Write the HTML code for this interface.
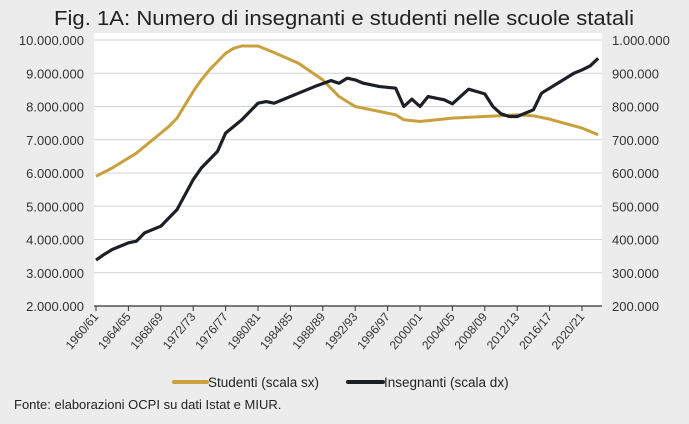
<!DOCTYPE html>
<html><head><meta charset="utf-8"><style>
html,body{margin:0;padding:0;background:#ececec;}
body{width:689px;height:419px;overflow:hidden;font-family:"Liberation Sans",sans-serif;}
</style></head><body>
<svg id="s" width="689" height="419" xmlns="http://www.w3.org/2000/svg" style="font-family:'Liberation Sans',sans-serif">
<rect width="689" height="419" fill="#ececec"/>
<rect x="94" y="33" width="508" height="273" fill="#fff"/>
<text x="344" y="25" font-size="20" text-anchor="middle" fill="#222" textLength="580" lengthAdjust="spacingAndGlyphs">Fig. 1A: Numero di insegnanti e studenti nelle scuole statali</text>
<g id="grid" stroke="#d4d4d4" stroke-width="1"></g>
<g id="lab" font-size="13" fill="#333"></g>
<line x1="94" y1="306" x2="602" y2="306" stroke="#333" stroke-width="1.3"/>
<g id="tk" stroke="#333" stroke-width="1"></g>
<g id="xl" font-size="12" fill="#333"></g>
<polyline id="stu" fill="none" stroke="#c9a03c" stroke-width="3" stroke-linejoin="round"/>
<polyline id="ins" fill="none" stroke="#1c1f26" stroke-width="3.2" stroke-linejoin="round"/>
<line x1="174" y1="382" x2="207" y2="382" stroke="#c9a03c" stroke-width="4" stroke-linecap="round"/>
<text x="208" y="387" font-size="13.5" fill="#222">Studenti (scala sx)</text>
<line x1="348" y1="382" x2="383" y2="382" stroke="#1c1f26" stroke-width="4" stroke-linecap="round"/>
<text x="384" y="387" font-size="13.5" fill="#222">Insegnanti (scala dx)</text>
<text x="14" y="409" font-size="13" fill="#222">Fonte: elaborazioni OCPI su dati Istat e MIUR.</text>
</svg>
<script>
var ns="http://www.w3.org/2000/svg";
function el(p,t,a,txt){var e=document.createElementNS(ns,t);for(var k in a)e.setAttribute(k,a[k]);if(txt)e.textContent=txt;document.getElementById(p).appendChild(e);}
var L=["10.000.000","9.000.000","8.000.000","7.000.000","6.000.000","5.000.000","4.000.000","3.000.000","2.000.000"];
var R=["1.000.000","900.000","800.000","700.000","600.000","500.000","400.000","300.000","200.000"];
for(var i=0;i<9;i++){var y=40+i*33.25;
 if(i<8)el("grid","line",{x1:94,x2:602,y1:y,y2:y});
 el("lab","text",{x:84,y:y+5,"text-anchor":"end"},L[i]);
 el("lab","text",{x:612,y:y+5},R[i]);}
function X(yr){return 96+(yr-1960)*8.1;}
for(var k=0;k<16;k++){var x=X(1960+4*k);el("tk","line",{x1:x,x2:x,y1:306,y2:311});
 var a=1960+4*k,b=String((a+1)%100).padStart(2,"0");
 el("xl","text",{x:x+3,y:317,"text-anchor":"end",transform:"rotate(-50 "+(x+3)+" 317)"},a+"/"+b);}
var S=[[1960,5.9],[1962,6.15],[1965,6.6],[1968,7.2],[1969,7.4],[1970,7.65],[1971,8.05],[1972,8.45],[1973,8.8],[1974,9.1],[1975,9.35],[1976,9.6],[1977,9.75],[1978,9.82],[1980,9.82],[1982,9.62],[1985,9.3],[1988,8.8],[1990,8.3],[1992,8.0],[1995,7.85],[1997,7.75],[1998,7.6],[2000,7.55],[2004,7.65],[2008,7.7],[2012,7.75],[2014,7.72],[2016,7.62],[2020,7.35],[2022,7.15]];
var I=[[1960,338],[1961,355],[1962,370],[1964,390],[1965,395],[1966,420],[1968,440],[1970,490],[1972,580],[1973,615],[1974,640],[1975,665],[1976,720],[1978,760],[1980,810],[1981,815],[1982,810],[1983,820],[1985,840],[1987,860],[1989,878],[1990,870],[1991,885],[1992,880],[1993,870],[1995,860],[1997,855],[1998,800],[1999,822],[2000,800],[2001,830],[2003,820],[2004,808],[2006,852],[2008,838],[2009,800],[2010,778],[2011,770],[2012,770],[2014,790],[2015,840],[2017,870],[2019,900],[2020,910],[2021,922],[2022,945]];
document.getElementById("stu").setAttribute("points",S.map(function(p){return X(p[0])+","+(306-(p[1]-2)*33.25)}).join(" "));
document.getElementById("ins").setAttribute("points",I.map(function(p){return X(p[0])+","+(306-(p[1]-200)*0.3325)}).join(" "));
</script>
</body></html>
